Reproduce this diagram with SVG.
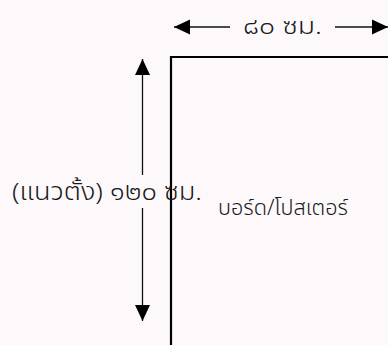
<svg xmlns="http://www.w3.org/2000/svg" width="388" height="345" viewBox="0 0 388 345">
<defs>
<style>
.t{font-family:"Noto Sans Thai","Noto Sans","DejaVu Sans",sans-serif;fill:#1a1a1a;font-weight:300;}
.dim{stroke:#111;stroke-width:1.3;fill:none;}
.board{stroke:#000;stroke-width:2.2;fill:none;}
</style>
<marker id="ah" viewBox="0 0 16 16" refX="16" refY="8" markerWidth="16" markerHeight="16" markerUnits="userSpaceOnUse" orient="auto">
<path d="M0,0.5 L16,8 L0,15.5 Z" fill="#000"/>
</marker>
</defs>
<rect width="388" height="345" fill="#fdf9fa"/>
<g id="board">
<path class="board" d="M171,345 L171,57 L390,57"/>
<text class="t" x="218" y="215" font-size="22" textLength="130" lengthAdjust="spacingAndGlyphs">บอร์ด/โปสเตอร์</text>
</g>
<g id="connectors">
<path class="dim" d="M230,27 L174,27" marker-end="url(#ah)"/>
<path class="dim" d="M335,27 L388,27" marker-end="url(#ah)"/>
<path class="dim" d="M142.5,175 L142.5,59" marker-end="url(#ah)"/>
<path class="dim" d="M142.5,208 L142.5,321" marker-end="url(#ah)"/>
</g>
<g id="width-label">
<text class="t" x="243" y="34" font-size="23" textLength="79" lengthAdjust="spacingAndGlyphs">๘๐ ซม.</text>
</g>
<g id="height-label">
<text class="t" x="12" y="200" font-size="24" textLength="190" lengthAdjust="spacingAndGlyphs">(แนวตั้ง) ๑๒๐ ซม.</text>
</g>
</svg>
